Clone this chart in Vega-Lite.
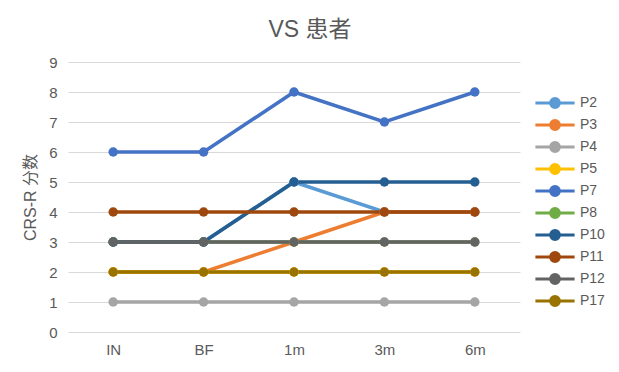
{
  "$schema": "https://vega.github.io/schema/vega-lite/v6.json",
  "width": 452,
  "height": 270,
  "autosize": {"type": "none"},
  "padding": {"left": 68, "top": 62, "right": 99, "bottom": 40},
  "background": "white",
  "title": {"text": "VS 患者", "fontSize": 23, "fontWeight": "normal", "color": "#595959", "font": "Liberation Sans, Noto Sans CJK SC", "offset": 13, "dx": 16},
  "config": {
    "view": {"stroke": null},
    "font": "Liberation Sans, Noto Sans CJK SC"
  },
  "data": {"values": [
    {"p": "P2", "t": "IN", "v": 3}, {"p": "P2", "t": "BF", "v": 3}, {"p": "P2", "t": "1m", "v": 5}, {"p": "P2", "t": "3m", "v": 4}, {"p": "P2", "t": "6m", "v": 4},
    {"p": "P3", "t": "IN", "v": 2}, {"p": "P3", "t": "BF", "v": 2}, {"p": "P3", "t": "1m", "v": 3}, {"p": "P3", "t": "3m", "v": 4}, {"p": "P3", "t": "6m", "v": 4},
    {"p": "P4", "t": "IN", "v": 1}, {"p": "P4", "t": "BF", "v": 1}, {"p": "P4", "t": "1m", "v": 1}, {"p": "P4", "t": "3m", "v": 1}, {"p": "P4", "t": "6m", "v": 1},
    {"p": "P5", "t": "IN", "v": 2}, {"p": "P5", "t": "BF", "v": 2}, {"p": "P5", "t": "1m", "v": 2}, {"p": "P5", "t": "3m", "v": 2}, {"p": "P5", "t": "6m", "v": 2},
    {"p": "P7", "t": "IN", "v": 6}, {"p": "P7", "t": "BF", "v": 6}, {"p": "P7", "t": "1m", "v": 8}, {"p": "P7", "t": "3m", "v": 7}, {"p": "P7", "t": "6m", "v": 8},
    {"p": "P8", "t": "IN", "v": 3}, {"p": "P8", "t": "BF", "v": 3}, {"p": "P8", "t": "1m", "v": 3}, {"p": "P8", "t": "3m", "v": 3}, {"p": "P8", "t": "6m", "v": 3},
    {"p": "P10", "t": "IN", "v": 3}, {"p": "P10", "t": "BF", "v": 3}, {"p": "P10", "t": "1m", "v": 5}, {"p": "P10", "t": "3m", "v": 5}, {"p": "P10", "t": "6m", "v": 5},
    {"p": "P11", "t": "IN", "v": 4}, {"p": "P11", "t": "BF", "v": 4}, {"p": "P11", "t": "1m", "v": 4}, {"p": "P11", "t": "3m", "v": 4}, {"p": "P11", "t": "6m", "v": 4},
    {"p": "P12", "t": "IN", "v": 3}, {"p": "P12", "t": "BF", "v": 3}, {"p": "P12", "t": "1m", "v": 3}, {"p": "P12", "t": "3m", "v": 3}, {"p": "P12", "t": "6m", "v": 3},
    {"p": "P17", "t": "IN", "v": 2}, {"p": "P17", "t": "BF", "v": 2}, {"p": "P17", "t": "1m", "v": 2}, {"p": "P17", "t": "3m", "v": 2}, {"p": "P17", "t": "6m", "v": 2}
  ]},
  "encoding": {
    "x": {"field": "t", "type": "nominal", "sort": ["IN", "BF", "1m", "3m", "6m"],
      "scale": {"paddingInner": 0, "paddingOuter": 0.5},
      "axis": {"title": null, "labelAngle": 0, "domain": false, "ticks": false, "grid": false, "labelFontSize": 15, "labelColor": "#595959", "labelPadding": 10}},
    "y": {"field": "v", "type": "quantitative", "scale": {"domain": [0, 9], "nice": false},
      "axis": {"title": "CRS-R 分数", "titleFontSize": 16, "titleFontWeight": "normal", "titleColor": "#595959", "titlePadding": 10, "values": [0,1,2,3,4,5,6,7,8,9], "labelOverlap": false, "domain": false, "ticks": false, "gridColor": "#d9d9d9", "gridWidth": 1, "labelFontSize": 15, "labelColor": "#595959", "labelPadding": 11}},
    "color": {"field": "p", "type": "nominal",
      "scale": {"domain": ["P2", "P3", "P4", "P5", "P7", "P8", "P10", "P11", "P12", "P17"],
        "range": ["#5B9BD5", "#ED7D31", "#A5A5A5", "#FFC000", "#4472C4", "#70AD47", "#255E91", "#9E480E", "#636363", "#997300"]},
      "legend": {"title": null, "orient": "none", "legendX": 480, "legendY": 34, "symbolType": "M-4.9,0L4.9,0M1.1,0A1.1,1.1,0,1,1,-1.1,0A1.1,1.1,0,1,1,1.1,0Z", "symbolSize": 64, "symbolStrokeWidth": 3, "labelFontSize": 14, "labelColor": "#595959", "labelOffset": 18, "rowPadding": 0,
        "encode": {"symbols": {"update": {"fill": {"scale": "color", "field": "value"}}}}}
    }
  },
  "layer": [
    {"mark": {"type": "line", "strokeWidth": 3.5}},
    {"mark": {"type": "point", "filled": true, "size": 90, "opacity": 1}}
  ]
}
